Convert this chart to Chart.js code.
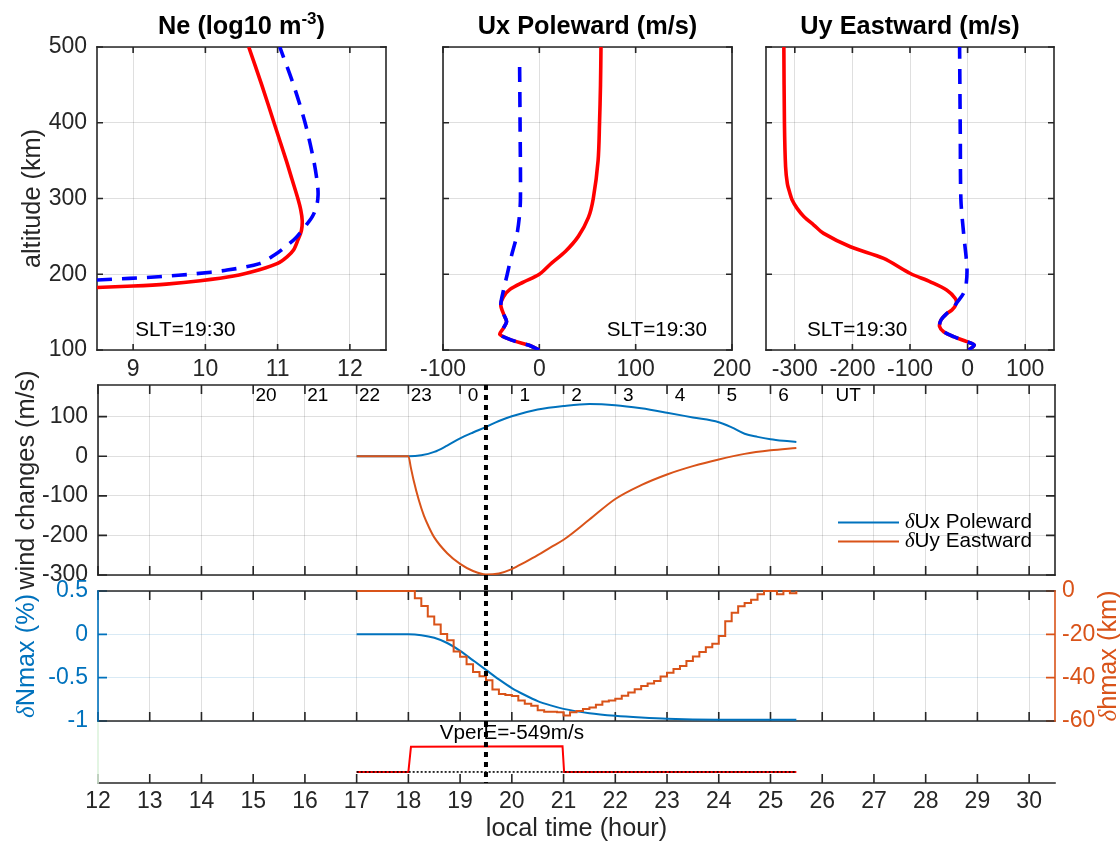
<!DOCTYPE html>
<html>
<head>
<meta charset="utf-8">
<title>SLT 19:30 profiles and response</title>
<script src="https://cdn.jsdelivr.net/npm/chart.js@4.4.1/dist/chart.umd.min.js"></script>
<style>
  body { margin: 0; background: #fff; }
  #fig { position: relative; width: 1120px; height: 843px; overflow: hidden; }
  #fig canvas { position: absolute; }
</style>
</head>
<body>
<div id="fig">
  <canvas id="neChart" width="400" height="380" style="left:0;top:0"></canvas>
  <canvas id="uxChart" width="360" height="380" style="left:400px;top:0"></canvas>
  <canvas id="uyChart" width="370" height="380" style="left:750px;top:0"></canvas>
  <canvas id="windChart" width="1120" height="230" style="left:0;top:370px"></canvas>
  <canvas id="vperChart" width="1120" height="128" style="left:0;top:715px"></canvas>
  <canvas id="nmaxChart" width="1120" height="170" style="left:0;top:570px"></canvas>
</div>
<script>
// ---- profiles at SLT=19:30, altitude (km) ----
const altTicks = [100, 200, 300, 400, 500];

const neTicks = [9, 10, 11, 12];
const neRedAlt = [182.5, 184.4, 187, 191.4, 197.6, 206.4, 214.3, 223, 232, 245, 258, 271, 285, 300, 325, 350, 400, 450, 500];
const neRedVal = [8.5, 9.0, 9.46, 9.93, 10.39, 10.76, 11.0, 11.13, 11.22, 11.28, 11.33, 11.34, 11.32, 11.28, 11.2, 11.12, 10.95, 10.78, 10.6];
const neBlueAlt = [192.5, 194.5, 197, 200.5, 205.5, 214, 225, 234, 248, 263, 276, 290, 305, 320, 350, 400, 450, 500];
const neBlueVal = [8.5, 8.95, 9.4, 9.85, 10.3, 10.75, 10.95, 11.08, 11.25, 11.38, 11.48, 11.54, 11.56, 11.55, 11.5, 11.38, 11.22, 11.03];

const uxTicks = [-100, 0, 100, 200];
const uxRedAlt = [100, 106.6, 112.3, 120.6, 128.6, 137.4, 146.2, 159.3, 170, 180, 189.7, 200, 215, 230, 250, 275, 300, 350, 400, 450, 500];
const uxRedVal = [0, -11.4, -27, -41, -37.4, -34, -36.7, -40, -37.4, -30.5, -16.6, 0, 13, 27, 40.5, 51, 56, 61, 62.5, 63.5, 64];
const uxBlueAlt = [100, 106.6, 112.3, 120.6, 128.6, 137.4, 146.2, 159.3, 180, 200, 225, 250, 275, 300, 400, 480];
const uxBlueVal = [0, -11.4, -27, -41, -37.4, -34, -36.7, -40, -37, -33.3, -28.8, -23.6, -20.8, -19.6, -20, -20.5];

const uyTicks = [-300, -200, -100, 0, 100];
const uyRedAlt = [100, 106.6, 111, 117.6, 124.2, 130.8, 139.6, 148.4, 152.7, 161.5, 168, 179, 190, 201, 220.9, 236.3, 254, 265, 276, 287, 298, 307, 320, 342, 400, 500];
const uyRedVal = [1.7, 11.6, -1.2, -24.3, -41.6, -48.6, -46.2, -35.8, -27.2, -19.7, -21.4, -35.8, -64.7, -99.4, -145.7, -203.5, -250, -267, -284, -296, -304.6, -308.5, -313, -316, -318, -319];
const uyBlueAlt = [100, 106.6, 111, 117.6, 124.2, 130.8, 139.6, 148.4, 152.7, 161.5, 175, 188, 210, 253.8, 298, 385.7, 500];
const uyBlueVal = [1.7, 11.6, -1.2, -24.3, -41.6, -48.6, -46.2, -35.8, -27.2, -19.7, -6.9, -2.3, -1.2, -6.9, -11.6, -12.7, -13.9];

// ---- time series, local time (hour) ----
const hourTicks = [12, 13, 14, 15, 16, 17, 18, 19, 20, 21, 22, 23, 24, 25, 26, 27, 28, 29, 30];
const sltHour = 19.5;
const utHours = [15, 16, 17, 18, 19, 20, 21, 22, 23, 24, 25];
const utLabels = ['20', '21', '22', '23', '0', '1', '2', '3', '4', '5', '6'];

const windTicks = [-300, -200, -100, 0, 100];
const windNames = ['δUx Poleward', 'δUy Eastward'];
const dUxTime = [17, 18, 18.25, 18.5, 18.75, 19, 19.25, 19.5, 19.75, 20, 20.5, 21, 21.5, 22, 22.5, 23, 23.5, 24, 24.25, 24.5, 24.75, 25, 25.25, 25.5];
const dUxVal = [0, 0, 2.5, 11, 27, 45, 60, 74, 89, 101, 118, 127, 132, 129, 121, 110, 98, 86, 73, 57, 49, 43, 39, 36];
const dUyTime = [17, 18, 18.05, 18.1, 18.2, 18.3, 18.4, 18.5, 18.75, 19, 19.25, 19.5, 19.75, 20, 20.25, 20.5, 20.75, 21, 21.5, 22, 22.5, 23, 23.5, 24, 24.5, 25, 25.5];
const dUyVal = [0, 0, -30, -60, -110, -150, -180, -205, -245, -272, -290, -299, -296, -285, -268, -250, -230, -211, -160, -108, -73, -46, -25, -8, 6, 15, 21];

const nmaxTicks = [-1, -0.5, 0, 0.5];
const nmaxTime = [17, 18, 18.25, 18.5, 18.75, 19, 19.25, 19.5, 19.75, 20, 20.25, 20.5, 20.75, 21, 21.5, 22, 22.5, 23, 24, 25, 25.5];
const nmaxVal = [0, 0, -0.01, -0.04, -0.1, -0.19, -0.3, -0.41, -0.52, -0.62, -0.7, -0.77, -0.82, -0.86, -0.91, -0.94, -0.96, -0.975, -0.985, -0.985, -0.985];

const hmaxTicks = [-60, -40, -20, 0];
const hmaxTime = [17, 18, 18.125, 18.25, 18.375, 18.5, 18.625, 18.75, 18.875, 19, 19.125, 19.25, 19.375, 19.5, 19.625, 19.75, 19.875, 20,
  20.125, 20.25, 20.375, 20.5, 20.625, 20.75, 20.875, 21, 21.125, 21.25, 21.375, 21.5, 21.625, 21.75, 21.875, 22,
  22.125, 22.25, 22.375, 22.5, 22.625, 22.75, 22.875, 23, 23.125, 23.25, 23.375, 23.5, 23.625, 23.75, 23.875, 24,
  24.125, 24.25, 24.375, 24.5, 24.625, 24.75, 24.875, 25, 25.125, 25.25, 25.375, 25.5];
const hmaxVal = [0, 0, -3.3, -6.9, -11.8, -15.5, -19.8, -22.7, -27.9, -30.3, -33.8, -37.4, -39.4, -41.2, -45.5, -47.5, -48, -48.5,
  -50.5, -52, -53, -55, -55.7, -55.7, -56, -57.5, -56, -55.4, -54.5, -53.8, -52.5, -51, -50.5, -49.7,
  -48.3, -46.9, -45.3, -43.8, -42.7, -41.5, -39.5, -37.7, -36, -34.6, -32.3, -30.2, -28.2, -26, -24.3, -20.8,
  -14, -10, -7, -5.5, -4, -1.5, 0, 0, -1.5, 0, -1, 0];

const vperTime = [17, 18, 18.05, 20.98, 21.01, 25.5];
const vperVal = [0, 0, 549, 560, 0, 0];
const refTime = [17, 25.5];
const refVal = [0, 0];

// ---- styling ----
const FONT = '"Liberation Sans", Arial, Helvetica, sans-serif';
const SERIF = '"Liberation Serif", "Times New Roman", serif';
const INK = '#262626';
const GRID = 'rgba(38,38,38,0.15)';
const MBLUE = '#0072BD';
const MORANGE = '#D95319';
const TICK = 23, LABEL = 25.3;

Chart.defaults.font.family = FONT;
Chart.defaults.color = INK;
Chart.defaults.animation = false;
Chart.defaults.events = [];
Chart.defaults.plugins.legend.display = false;
Chart.defaults.plugins.tooltip.enabled = false;

const pts = (xs, ys) => xs.map((x, i) => ({ x, y: ys[i] }));
const profilePts = (alt, val) => alt.map((a, i) => ({ x: val[i], y: a }));
const setTicks = arr => s => { s.ticks = arr.map(v => ({ value: v })); };
// fixed axis sizes, and no extra room for labels that stick out past the plot edges
const fixW = w => s => { s.width = w; s.paddingTop = 0; s.paddingBottom = 0; };
const fixH = h => s => { s.height = h; s.paddingLeft = 0; s.paddingRight = 0; };
const tickFont = { size: TICK, lineHeight: 1 };

function drawFrame(c, f) {
  const { ctx, chartArea: a } = c;
  ctx.save();
  ctx.lineWidth = 1.6;
  (f.ticks || []).forEach(t => {
    const sc = c.scales[t.axis];
    ctx.strokeStyle = t.color || INK;
    ctx.beginPath();
    sc.ticks.forEach(k => {
      const p = sc.getPixelForValue(k.value);
      if (t.side === 'bottom') { ctx.moveTo(p, a.bottom); ctx.lineTo(p, a.bottom - t.len); }
      if (t.side === 'top') { ctx.moveTo(p, a.top); ctx.lineTo(p, a.top + t.len); }
      if (t.side === 'left') { ctx.moveTo(a.left, p); ctx.lineTo(a.left + t.len, p); }
      if (t.side === 'right') { ctx.moveTo(a.right, p); ctx.lineTo(a.right - t.len, p); }
    });
    ctx.stroke();
  });
  const ends = {
    top: [a.left, a.top, a.right, a.top], bottom: [a.left, a.bottom, a.right, a.bottom],
    left: [a.left, a.top, a.left, a.bottom], right: [a.right, a.top, a.right, a.bottom]
  };
  ctx.lineCap = 'square';
  Object.keys(f.sides).forEach(k => {
    const e = ends[k];
    ctx.strokeStyle = f.sides[k];
    ctx.beginPath(); ctx.moveTo(e[0], e[1]); ctx.lineTo(e[2], e[3]); ctx.stroke();
  });
  ctx.restore();
}

// text made of pieces in different fonts (superscripts, greek delta)
function rich(ctx, parts, x, y, o) {
  ctx.save();
  ctx.translate(x, y);
  if (o.rot) ctx.rotate(o.rot);
  ctx.fillStyle = o.color || INK;
  ctx.textBaseline = o.baseline || 'middle';
  ctx.textAlign = 'left';
  let w = 0;
  parts.forEach(p => { ctx.font = p.font; p.w = ctx.measureText(p.t).width; w += p.w; });
  let cx = o.align === 'left' ? 0 : -w / 2;
  parts.forEach(p => { ctx.font = p.font; ctx.fillText(p.t, cx, p.dy || 0); cx += p.w; });
  ctx.restore();
}
const delta = (s, size) => [
  { t: s[0], font: `italic ${size}px ${SERIF}` },
  { t: s.slice(1), font: `${size}px ${FONT}` }
];

function sltLine(c, extra) {
  const { ctx, chartArea: a } = c;
  const px = c.scales.x.getPixelForValue(sltHour);
  ctx.save();
  ctx.strokeStyle = '#000';
  ctx.lineWidth = 4;
  ctx.setLineDash([5, 5]);
  ctx.beginPath(); ctx.moveTo(px, a.top); ctx.lineTo(px, a.bottom + (extra || 0)); ctx.stroke();
  ctx.restore();
}

function note(c, text, x, y, size) {
  const { ctx } = c;
  ctx.save();
  ctx.font = `${size}px ${FONT}`;
  ctx.fillStyle = '#000';
  ctx.textAlign = 'left';
  ctx.textBaseline = 'middle';
  ctx.fillText(text, c.scales.x.getPixelForValue(x), c.scales.y.getPixelForValue(y));
  ctx.restore();
}

const boxAll = len => ({
  sides: { top: INK, right: INK, bottom: INK, left: INK },
  ticks: [
    { axis: 'x', side: 'bottom', len }, { axis: 'x', side: 'top', len },
    { axis: 'y', side: 'left', len }, { axis: 'y', side: 'right', len }
  ]
});

// ---- top row: altitude profiles ----
function profileChart(id, o) {
  return new Chart(document.getElementById(id), {
    type: 'scatter',
    data: {
      datasets: [
        { data: profilePts(o.blueAlt, o.blueVal), showLine: true, tension: 0.3, pointRadius: 0, borderColor: '#0000FF', borderWidth: 3.6, borderDash: [15, 10] },
        { data: profilePts(o.redAlt, o.redVal), showLine: true, tension: 0.3, pointRadius: 0, borderColor: '#FF0000', borderWidth: 3.6, borderJoinStyle: 'round' }
      ]
    },
    options: {
      responsive: false,
      layout: { padding: { top: 47, right: o.padRight, left: 0, bottom: 0 } },
      scales: {
        x: {
          type: 'linear', min: o.xMin, max: o.xMax,
          afterBuildTicks: setTicks(o.xTicks), afterFit: fixH(30),
          grid: { color: GRID, drawTicks: false }, border: { display: false },
          ticks: { font: tickFont, padding: 8, autoSkip: false, maxRotation: 0, callback: v => String(v) }
        },
        y: {
          type: 'linear', min: 100, max: 500,
          afterBuildTicks: setTicks(altTicks), afterFit: fixW(o.leftW),
          grid: { color: GRID, drawTicks: false }, border: { display: false },
          ticks: { display: o.yLabels, font: tickFont, padding: 10, callback: v => String(v) },
          title: { display: o.yLabels, text: 'altitude (km)', font: { size: LABEL, lineHeight: 1 }, padding: { top: 20 } }
        }
      }
    },
    plugins: [{
      id: id + 'Deco',
      beforeDatasetsDraw: c => drawFrame(c, boxAll(6)),
      afterDraw: c => {
        const a = c.chartArea;
        rich(c.ctx, o.title, (a.left + a.right) / 2, a.top - 13, { baseline: 'alphabetic', color: '#000' });
        note(c, 'SLT=19:30', o.noteX, 126.5, 20.7);
      }
    }]
  });
}

const bold = `bold ${LABEL}px ${FONT}`;
profileChart('neChart', {
  blueAlt: neBlueAlt, blueVal: neBlueVal, redAlt: neRedAlt, redVal: neRedVal,
  xMin: 8.5, xMax: 12.5, xTicks: neTicks, leftW: 97, padRight: 14, yLabels: true, noteX: 9.03,
  title: [{ t: 'Ne (log10 m', font: bold }, { t: '-3', font: `bold 17px ${FONT}`, dy: -10 }, { t: ')', font: bold }]
});
profileChart('uxChart', {
  blueAlt: uxBlueAlt, blueVal: uxBlueVal, redAlt: uxRedAlt, redVal: uxRedVal,
  xMin: -100, xMax: 200, xTicks: uxTicks, leftW: 43, padRight: 28, yLabels: false, noteX: 70,
  title: [{ t: 'Ux Poleward (m/s)', font: bold }]
});
profileChart('uyChart', {
  blueAlt: uyBlueAlt, blueVal: uyBlueVal, redAlt: uyRedAlt, redVal: uyRedVal,
  xMin: -350, xMax: 150, xTicks: uyTicks, leftW: 16, padRight: 66, yLabels: false, noteX: -279,
  title: [{ t: 'Uy Eastward (m/s)', font: bold }]
});

// ---- wind changes ----
const hourAxis = extra => Object.assign({
  type: 'linear', min: 12, max: 30.5,
  afterBuildTicks: setTicks(hourTicks),
  grid: { color: GRID, drawTicks: false }, border: { display: false },
  ticks: { display: false }
}, extra);

new Chart(document.getElementById('windChart'), {
  type: 'scatter',
  data: {
    datasets: [
      { data: pts(dUyTime, dUyVal), showLine: true, cubicInterpolationMode: 'monotone', pointRadius: 0, borderColor: MORANGE, borderWidth: 2 },
      { data: pts(dUxTime, dUxVal), showLine: true, cubicInterpolationMode: 'monotone', pointRadius: 0, borderColor: MBLUE, borderWidth: 2 }
    ]
  },
  options: {
    responsive: false,
    layout: { padding: { top: 15, right: 65, left: 0, bottom: 0 } },
    scales: {
      x: hourAxis({ afterFit: fixH(25) }),
      y: {
        type: 'linear', min: -300, max: 180,
        afterBuildTicks: setTicks(windTicks), afterFit: fixW(98),
        grid: { color: GRID, drawTicks: false }, border: { display: false },
        ticks: { font: tickFont, padding: 10, callback: v => String(v) },
        title: { display: true, text: 'wind changes (m/s)', font: { size: LABEL, lineHeight: 1 }, padding: { top: 14.5 } }
      }
    }
  },
  plugins: [{
    id: 'windDeco',
    beforeDatasetsDraw: c => drawFrame(c, boxAll(9)),
    afterDatasetsDraw: c => {
      const { ctx, chartArea: a } = c;
      sltLine(c, 16);
      ctx.save();
      ctx.font = `19px ${FONT}`;
      ctx.fillStyle = '#000';
      ctx.textAlign = 'center';
      ctx.textBaseline = 'middle';
      utHours.forEach((h, i) => ctx.fillText(utLabels[i], c.scales.x.getPixelForValue(h + 0.25), a.top + 11));
      ctx.fillText('UT', c.scales.x.getPixelForValue(26.5), a.top + 11);
      ctx.restore();
      [MBLUE, MORANGE].forEach((col, i) => {
        const y = a.top + 137.5 + i * 19;
        const x0 = a.right - 217;
        ctx.save();
        ctx.strokeStyle = col; ctx.lineWidth = 2;
        ctx.beginPath(); ctx.moveTo(x0, y); ctx.lineTo(x0 + 61, y); ctx.stroke();
        ctx.restore();
        rich(ctx, delta(windNames[i], 20.7), x0 + 67, y, { align: 'left', color: '#000' });
      });
    }
  }]
});

// ---- VperE switch ----
new Chart(document.getElementById('vperChart'), {
  type: 'scatter',
  data: {
    datasets: [
      { data: pts(refTime, refVal), showLine: true, pointRadius: 0, borderColor: '#000', borderWidth: 1.6, borderDash: [2, 2] },
      { data: pts(vperTime, vperVal), showLine: true, pointRadius: 0, borderColor: '#FF0000', borderWidth: 2 }
    ]
  },
  options: {
    responsive: false,
    layout: { padding: { top: 7, right: 65, left: 98, bottom: 0 } },
    scales: {
      x: {
        type: 'linear', min: 12, max: 30.5,
        afterBuildTicks: setTicks(hourTicks), afterFit: fixH(60),
        grid: { display: false, drawTicks: false }, border: { display: false },
        ticks: { font: tickFont, padding: 7, autoSkip: false, maxRotation: 0, callback: v => String(v) },
        title: { display: true, text: 'local time (hour)', font: { size: LABEL, lineHeight: 1 }, padding: { bottom: 1.5 } }
      },
      y: { display: false, min: -240, max: 1085 }
    }
  },
  plugins: [{
    id: 'vperDeco',
    beforeDatasetsDraw: c => drawFrame(c, {
      sides: { bottom: INK, left: '#dcf3dc' },
      ticks: [{ axis: 'x', side: 'bottom', len: 9 }]
    }),
    afterDatasetsDraw: c => {
      sltLine(c, 0);
      const { ctx } = c;
      ctx.save();
      ctx.font = `20.7px ${FONT}`;
      ctx.fillStyle = '#000';
      ctx.textAlign = 'center';
      ctx.textBaseline = 'middle';
      ctx.fillText('VperE=-549m/s', c.scales.x.getPixelForValue(20), c.scales.y.getPixelForValue(835));
      ctx.restore();
    }
  }]
});

// ---- delta Nmax / delta hmax ----
new Chart(document.getElementById('nmaxChart'), {
  type: 'scatter',
  data: {
    datasets: [
      { data: pts(hmaxTime, hmaxVal), yAxisID: 'y2', showLine: true, stepped: true, clip: 3, pointRadius: 0, borderColor: MORANGE, borderWidth: 2 },
      { data: pts(nmaxTime, nmaxVal), yAxisID: 'y', showLine: true, cubicInterpolationMode: 'monotone', pointRadius: 0, borderColor: MBLUE, borderWidth: 2 }
    ]
  },
  options: {
    responsive: false,
    layout: { padding: { top: 21, right: 0, left: 0, bottom: 0 } },
    scales: {
      x: hourAxis({ afterFit: fixH(19) }),
      y: {
        type: 'linear', position: 'left', min: -1, max: 0.5,
        afterBuildTicks: setTicks(nmaxTicks), afterFit: fixW(98),
        grid: { color: 'rgba(0,114,189,0.15)', drawTicks: false }, border: { display: false },
        ticks: { color: MBLUE, font: tickFont, padding: 10, callback: v => String(v) }
      },
      y2: {
        type: 'linear', position: 'right', min: -60, max: 0,
        afterBuildTicks: setTicks(hmaxTicks), afterFit: fixW(65),
        grid: { display: false, drawTicks: false }, border: { display: false },
        ticks: { color: MORANGE, font: tickFont, padding: 7, callback: v => String(v) }
      }
    }
  },
  plugins: [{
    id: 'nmaxDeco',
    beforeDatasetsDraw: c => drawFrame(c, {
      sides: { top: INK, bottom: INK, left: MBLUE, right: MORANGE },
      ticks: [
        { axis: 'x', side: 'bottom', len: 9 }, { axis: 'x', side: 'top', len: 9 },
        { axis: 'y', side: 'left', len: 9, color: MBLUE }, { axis: 'y2', side: 'right', len: 9, color: MORANGE }
      ]
    }),
    afterDatasetsDraw: c => {
      const a = c.chartArea;
      sltLine(c, 1);
      const mid = (a.top + a.bottom) / 2;
      rich(c.ctx, delta('δNmax (%)', LABEL), 27, mid, { rot: -Math.PI / 2, color: MBLUE });
      rich(c.ctx, delta('δhmax (km)', LABEL), c.width - 11, mid, { rot: -Math.PI / 2, color: MORANGE });
    }
  }]
});
</script>
</body>
</html>
